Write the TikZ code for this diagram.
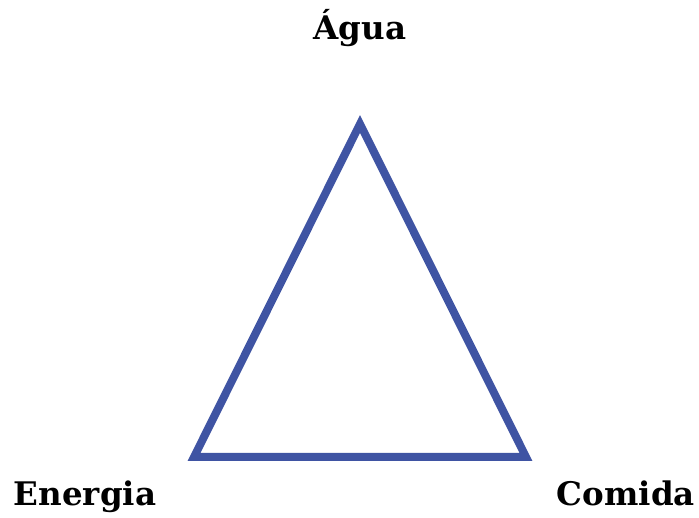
\documentclass[tikz,border=0pt]{standalone}
\usepackage{fontspec}
\setmainfont{DejaVu Serif}
\definecolor{triblue}{RGB}{63,84,163}
\begin{document}
\begin{tikzpicture}[x=1pt,y=1pt,
  lbl/.style={font=\bfseries\fontsize{32.5}{36}\selectfont, text=black, inner sep=0pt, anchor=base},
  tri/.style={draw=triblue, line width=8pt, line join=miter}]
\useasboundingbox (0,0) rectangle (699,518);
\coordinate (top) at (360,394);
\coordinate (bl) at (194,61);
\coordinate (br) at (526,61);
\draw[tri] (top) -- (bl) -- (br) -- cycle;
\node[lbl] (agua) at (360,478) {Água};
\node[lbl] (energia) at (85,12) {Energia};
\node[lbl] (comida) at (626,12) {Comida};
\end{tikzpicture}
\end{document}
